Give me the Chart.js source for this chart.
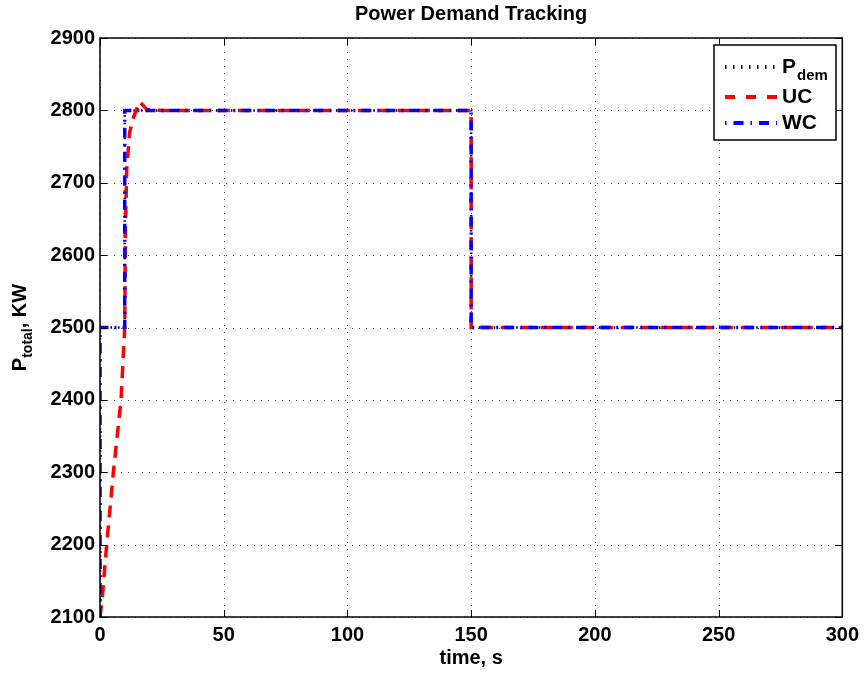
<!DOCTYPE html>
<html>
<head>
<meta charset="utf-8">
<script src="https://cdn.jsdelivr.net/npm/chart.js@4.4.0/dist/chart.umd.min.js"></script>
<style>
  html, body { margin: 0; padding: 0; background: #fff; }
  #wrap { width: 865px; height: 673px; }
</style>
</head>
<body>
<div id="wrap"><canvas id="chart" width="865" height="673"></canvas></div>
<script>
// time (s) and power (kW)
const demTime = [0, 0, 10, 10, 150, 150, 300];
const demPower = [2100, 2500, 2500, 2800, 2800, 2500, 2500];

const ucTime = [0, 1, 2.7, 5.4, 8.5, 10, 10.3, 10.8, 12, 13.5, 16, 19, 25, 150, 150, 300];
const ucPower = [2100, 2130, 2200, 2300, 2400, 2500, 2640, 2720, 2770, 2790, 2812, 2801, 2800, 2800, 2500, 2500];

const wcTime = [0, 0, 10, 10, 150, 150, 300];
const wcPower = [2100, 2500, 2500, 2800, 2800, 2500, 2500];

const xTicks = [0, 50, 100, 150, 200, 250, 300];
const yTicks = [2100, 2200, 2300, 2400, 2500, 2600, 2700, 2800, 2900];

const FONT = '"Liberation Sans", Arial, Helvetica, sans-serif';

function toPoints(xs, ys) {
  return xs.map((x, i) => ({ x: x, y: ys[i] }));
}

// grid, box, inner ticks, titles and legend in MATLAB style
const matlabFrame = {
  id: 'matlabFrame',
  beforeDatasetsDraw(chart) {
    const ctx = chart.ctx;
    const a = chart.chartArea;
    const xs = chart.scales.x, ys = chart.scales.y;
    ctx.save();
    ctx.strokeStyle = '#444';
    ctx.lineWidth = 1;
    ctx.setLineDash([1, 6]);
    xTicks.forEach(v => {
      const px = Math.round(xs.getPixelForValue(v)) + 0.5;
      ctx.beginPath(); ctx.moveTo(px, a.top); ctx.lineTo(px, a.bottom); ctx.stroke();
    });
    yTicks.forEach(v => {
      const py = Math.round(ys.getPixelForValue(v)) + 0.5;
      ctx.beginPath(); ctx.moveTo(a.left, py); ctx.lineTo(a.right, py); ctx.stroke();
    });
    ctx.restore();
  },
  afterDatasetsDraw(chart) {
    const ctx = chart.ctx;
    const a = chart.chartArea;
    const xs = chart.scales.x, ys = chart.scales.y;
    ctx.save();
    ctx.setLineDash([]);
    ctx.strokeStyle = '#000';
    ctx.lineWidth = 1.5;
    ctx.strokeRect(a.left, a.top, a.right - a.left, a.bottom - a.top);
    ctx.lineWidth = 1;
    xTicks.forEach(v => {
      const px = Math.round(xs.getPixelForValue(v)) + 0.5;
      ctx.beginPath();
      ctx.moveTo(px, a.bottom); ctx.lineTo(px, a.bottom - 7);
      ctx.moveTo(px, a.top); ctx.lineTo(px, a.top + 7);
      ctx.stroke();
    });
    yTicks.forEach(v => {
      const py = Math.round(ys.getPixelForValue(v)) + 0.5;
      ctx.beginPath();
      ctx.moveTo(a.left, py); ctx.lineTo(a.left + 7, py);
      ctx.moveTo(a.right, py); ctx.lineTo(a.right - 7, py);
      ctx.stroke();
    });

    // titles
    ctx.fillStyle = '#000';
    ctx.textAlign = 'center';
    ctx.textBaseline = 'middle';
    ctx.font = 'bold 20px ' + FONT;
    ctx.fillText('Power Demand Tracking', (a.left + a.right) / 2, 14);
    ctx.font = 'bold 20px ' + FONT;
    ctx.fillText('time, s', (a.left + a.right) / 2, 658);

    // y title with subscript
    ctx.save();
    ctx.translate(20, (a.top + a.bottom) / 2);
    ctx.rotate(-Math.PI / 2);
    ctx.textAlign = 'left';
    ctx.textBaseline = 'alphabetic';
    const big = 'bold 20px ' + FONT, small = 'bold 14px ' + FONT;
    ctx.font = big; const wP = ctx.measureText('P').width;
    ctx.font = small; const wSub = ctx.measureText('total').width;
    ctx.font = big; const wRest = ctx.measureText(', KW').width;
    let x0 = -(wP + wSub + wRest) / 2;
    ctx.font = big; ctx.fillText('P', x0, 6);
    ctx.font = small; ctx.fillText('total', x0 + wP, 12);
    ctx.font = big; ctx.fillText(', KW', x0 + wP + wSub, 6);
    ctx.restore();

    // legend
    const lx = 714, ly = 45, lw = 122, lh = 95;
    ctx.fillStyle = '#fff';
    ctx.fillRect(lx, ly, lw, lh);
    ctx.strokeStyle = '#000';
    ctx.lineWidth = 1.5;
    ctx.strokeRect(lx, ly, lw, lh);
    const rows = [
      { y: 67, color: '#000', dash: [1.5, 6.5], width: 4, label: 'P', sub: 'dem' },
      { y: 97, color: '#ff0000', dash: [10, 11], width: 4, label: 'UC' },
      { y: 123, color: '#0000ff', dash: [1.5, 7, 10, 7], width: 4, label: 'WC' }
    ];
    rows.forEach(r => {
      ctx.strokeStyle = r.color;
      ctx.lineWidth = r.width;
      ctx.setLineDash(r.dash);
      ctx.beginPath(); ctx.moveTo(725, r.y); ctx.lineTo(777, r.y); ctx.stroke();
      ctx.setLineDash([]);
      ctx.fillStyle = '#000';
      ctx.textAlign = 'left';
      ctx.textBaseline = 'middle';
      ctx.font = 'bold 21px ' + FONT;
      ctx.fillText(r.label, 782, r.y);
      if (r.sub) {
        const w = ctx.measureText(r.label).width;
        ctx.font = 'bold 15px ' + FONT;
        ctx.fillText(r.sub, 782 + w + 1, r.y + 9);
      }
    });
    ctx.restore();
  }
};

new Chart(document.getElementById('chart').getContext('2d'), {
  type: 'line',
  data: {
    datasets: [
      {
        label: 'Pdem',
        data: toPoints(demTime, demPower),
        borderColor: '#000',
        borderWidth: 2.5,
        borderDash: [1.5, 6],
        pointRadius: 0,
        tension: 0,
        order: 3
      },
      {
        label: 'UC',
        data: toPoints(ucTime, ucPower),
        borderColor: '#ff0000',
        borderWidth: 3.5,
        borderDash: [12, 8],
        pointRadius: 0,
        tension: 0,
        order: 2
      },
      {
        label: 'WC',
        data: toPoints(wcTime, wcPower),
        borderColor: '#0000ff',
        borderWidth: 3.5,
        borderDash: [10, 6, 2, 6],
        pointRadius: 0,
        tension: 0,
        order: 1
      }
    ]
  },
  options: {
    responsive: false,
    animation: false,
    layout: { padding: { left: 0, right: 19, top: 38, bottom: 0 } },
    plugins: {
      legend: { display: false },
      title: { display: false },
      tooltip: { enabled: false }
    },
    scales: {
      x: {
        type: 'linear',
        min: 0,
        max: 300,
        afterBuildTicks: axis => { axis.ticks = xTicks.map(v => ({ value: v })); },
        afterFit: axis => { axis.height = 56; },
        grid: { display: false, drawTicks: false },
        border: { display: false },
        ticks: {
          color: '#000',
          padding: 6,
          maxRotation: 0,
          callback: v => String(v),
          font: { family: FONT, size: 20, weight: 'bold' }
        }
      },
      y: {
        type: 'linear',
        min: 2100,
        max: 2900,
        afterBuildTicks: axis => { axis.ticks = yTicks.map(v => ({ value: v })); },
        afterFit: axis => { axis.width = 100; },
        grid: { display: false, drawTicks: false },
        border: { display: false },
        ticks: {
          color: '#000',
          padding: 5,
          callback: v => String(v),
          font: { family: FONT, size: 20, weight: 'bold' }
        }
      }
    }
  },
  plugins: [matlabFrame]
});
</script>
</body>
</html>
